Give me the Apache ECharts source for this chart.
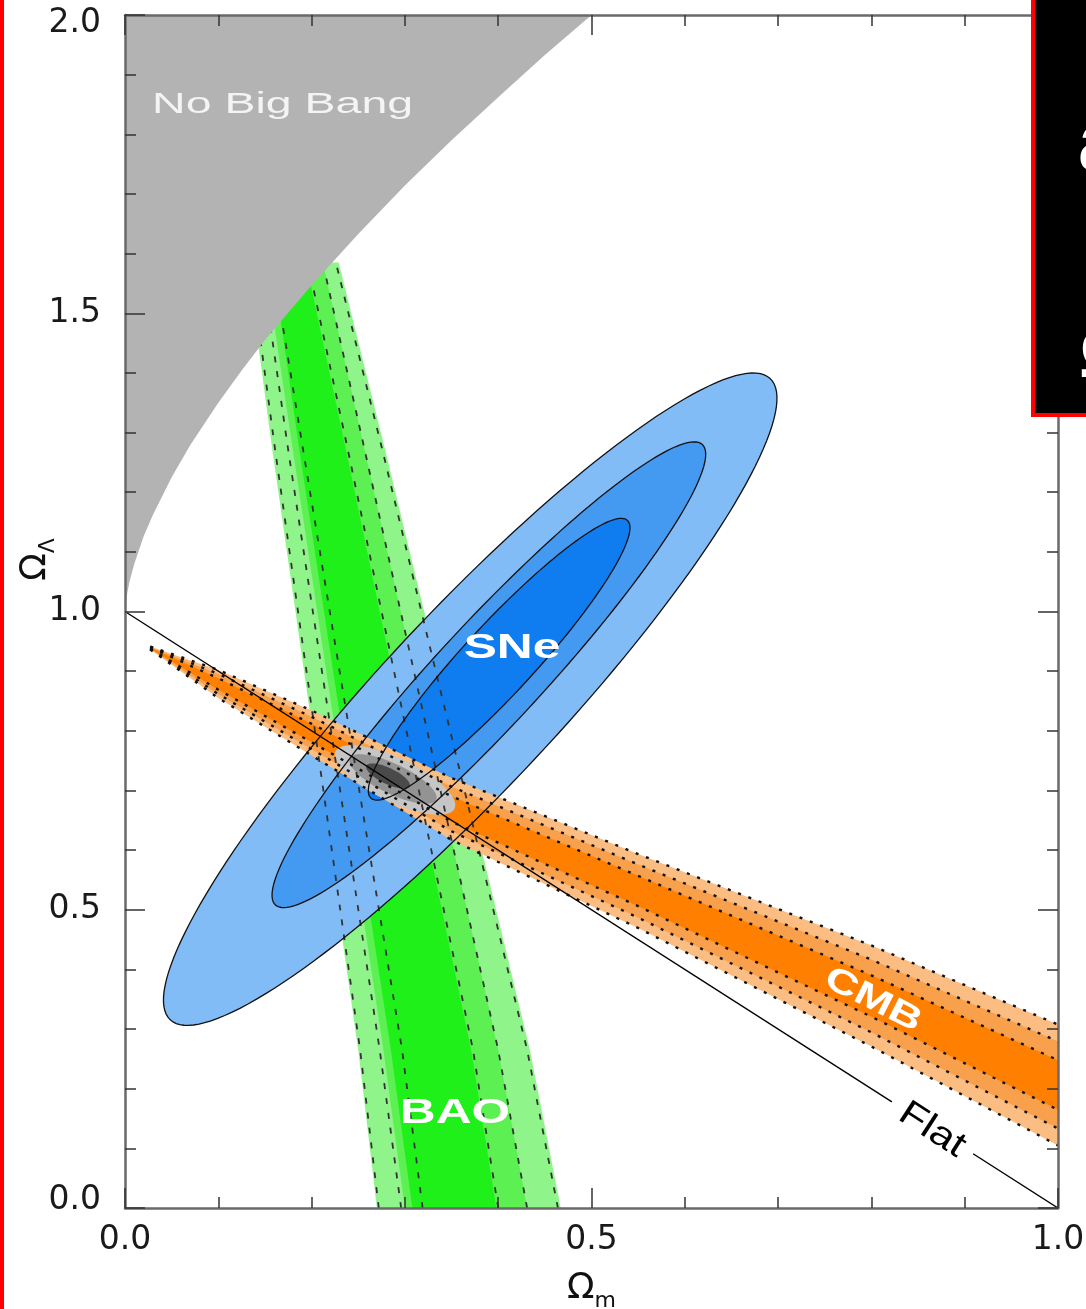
<!DOCTYPE html>
<html>
<head>
<meta charset="utf-8">
<script src="https://cdn.jsdelivr.net/npm/echarts@6/dist/echarts.min.js"></script>
<style>
  html, body { margin: 0; padding: 0; background: #fff; }
  #chart { width: 1086px; height: 1309px; }
</style>
</head>
<body>
<div id="chart"></div>
<script>
// ---- Data (Ω_m on x, Ω_Λ on y) ----

// Tick labels
const xTickLabels = ['0.0', '0.5', '1.0'];
const yTickLabels = ['0.0', '0.5', '1.0', '1.5', '2.0'];

// Boundary of the "No Big Bang" region
const noBigBangEdge = [
  [0, 1.0], [0.0025, 1.032], [0.005, 1.051], [0.01, 1.080], [0.02, 1.126], [0.03, 1.162],
  [0.05, 1.225], [0.07, 1.279], [0.1, 1.350], [0.125, 1.404], [0.15, 1.455], [0.2, 1.547],
  [0.25, 1.633], [0.3, 1.714], [0.35, 1.790], [0.4, 1.862], [0.45, 1.933], [0.5, 2.0]
];

// BAO: Ω_m of each contour edge at these Ω_Λ levels
const baoLevels = [0, 0.265, 1.27, 1.585];
const baoOuterLeft  = [0.270, 0.250, 0.158, 0.131];
const baoOuterRight = [0.467, 0.434, 0.279, 0.229];
const baoMidLeft    = [0.300, 0.277, 0.180, 0.150];
const baoMidRight   = [0.431, 0.400, 0.257, 0.212];
const baoInnerLeft  = [0.308, 0.285, 0.187, 0.158];
const baoInnerRight = [0.398, 0.371, 0.237, 0.194];
// BAO dashed contours
const baoDash1L = [0.272, 0.252, 0.161, 0.134];
const baoDash2L = [0.296, 0.273, 0.175, 0.146];
const baoDash3L = [0.319, 0.297, 0.191, 0.158];
const baoDash3R = [0.400, 0.373, 0.239, 0.196];
const baoDash2R = [0.431, 0.400, 0.257, 0.212];
const baoDash1R = [0.464, 0.431, 0.276, 0.226];

// SNe confidence ellipses: centre and two conjugate semi-diameters
const sneCenters = [[0.370, 0.853], [0.390, 0.894], [0.401, 0.920]];
const sneAxisA   = [[0.3215, 0.5375], [0.2288, 0.3859], [0.1375, 0.2327]];
const sneAxisB   = [[0.0689, -0.1008], [0.0408, -0.0593], [0.0275, -0.0399]];

// CMB band: Ω_Λ of each contour edge at these Ω_m values
const cmbX          = [0.027, 0.1, 0.2, 0.35, 0.55, 0.8, 1.0];
const cmbOuterUpper = [0.9413, 0.9020, 0.8340, 0.7209, 0.5934, 0.4401, 0.3076];
const cmbOuterLower = [0.9363, 0.8550, 0.7586, 0.6169, 0.4694, 0.2707, 0.1048];
const cmbMidUpper   = [0.9406, 0.8954, 0.8234, 0.7063, 0.5760, 0.4164, 0.2792];
const cmbMidLower   = [0.9370, 0.8616, 0.7692, 0.6315, 0.4868, 0.2944, 0.1332];
const cmbInnerUpper = [0.9398, 0.8881, 0.8118, 0.6902, 0.5568, 0.3901, 0.2478];
const cmbInnerLower = [0.9378, 0.8689, 0.7808, 0.6476, 0.5060, 0.3207, 0.1646];

// Joint constraint ellipses
const jointCenters = [[0.2894, 0.7175], [0.2872, 0.7192], [0.2819, 0.7242]];
const jointAxisA   = [[0.0638, -0.0479], [0.0463, -0.0349], [0.0232, -0.0174]];
const jointAxisB   = [[-0.0102, -0.0332], [-0.0070, -0.0226], [-0.0037, -0.0121]];

// Flat universe line Ω_m + Ω_Λ = 1 (broken around its label)
const flatSegments = [[[0, 1], [0.822, 0.178]], [[0.909, 0.091], [1, 0]]];

// ---- Styles ----
const tickFont = '"DejaVu Sans", Verdana, sans-serif';
const textFont = '"Liberation Sans", Arial, Helvetica, sans-serif';
const baoColors   = ['#8ff58a', '#5cf052', '#1ff01a'];
const sneColors   = ['#82bcf7', '#4499f0', '#0f7cf0'];
const cmbColors   = ['#fbbd82', '#f9a04c', '#ff8000'];
const jointColors = ['#c6c6c6', '#939393', '#4a4a4a'];

// ---- Geometry helpers ----
function ellipsePoints(c, a, b, n) {
  const pts = [];
  for (let i = 0; i < n; i++) {
    const t = 2 * Math.PI * i / n;
    pts.push([c[0] + a[0] * Math.cos(t) + b[0] * Math.sin(t),
              c[1] + a[1] * Math.cos(t) + b[1] * Math.sin(t)]);
  }
  return pts;
}
function bandByY(levels, left, right) {
  const pts = left.map((x, i) => [x, levels[i]]);
  for (let i = right.length - 1; i >= 0; i--) pts.push([right[i], levels[i]]);
  return pts;
}
function bandByX(xs, upper, lower) {
  const pts = xs.map((x, i) => [x, upper[i]]);
  for (let i = xs.length - 1; i >= 0; i--) pts.push([xs[i], lower[i]]);
  return pts;
}
const lineByY = (levels, xs) => xs.map((x, i) => [x, levels[i]]);
const lineByX = (xs, ys) => xs.map((x, i) => [x, ys[i]]);

const toPx = (api, pts) => pts.map(p => api.coord(p));
const fillPoly = (api, pts, fill) =>
  ({ type: 'polygon', shape: { points: toPx(api, pts) }, style: { fill: fill, stroke: null } });
const strokePoly = (api, pts, stroke, w) =>
  ({ type: 'polygon', shape: { points: toPx(api, pts) }, style: { fill: null, stroke: stroke, lineWidth: w } });
const strokeLine = (api, pts, stroke, w, dash) =>
  ({ type: 'polyline', shape: { points: toPx(api, pts) },
     style: { fill: null, stroke: stroke, lineWidth: w, lineDash: dash || null } });
const textAt = (api, p, text, opt) => {
  const q = api.coord(p);
  return {
    type: 'text', x: q[0], y: q[1],
    rotation: (opt.rotate || 0) * Math.PI / 180,
    scaleX: opt.scaleX || 1,
    style: { text: text, font: opt.font, fill: opt.fill,
             align: opt.align || 'center', verticalAlign: 'middle' }
  };
};

function layer(z, build) {
  return {
    type: 'custom', coordinateSystem: 'cartesian2d', xAxisIndex: 0, yAxisIndex: 0,
    z: z, silent: true, clip: true, animation: false,
    data: [[0.5, 1]],
    renderItem: (params, api) => ({ type: 'group', children: build(api) })
  };
}

const sneShapes = sneCenters.map((c, i) => ellipsePoints(c, sneAxisA[i], sneAxisB[i], 160));
const jointShapes = jointCenters.map((c, i) => ellipsePoints(c, jointAxisA[i], jointAxisB[i], 80));
const baoFills = [
  bandByY(baoLevels, baoOuterLeft, baoOuterRight),
  bandByY(baoLevels, baoMidLeft, baoMidRight),
  bandByY(baoLevels, baoInnerLeft, baoInnerRight)
];
const baoDashes = [baoDash1L, baoDash2L, baoDash3L, baoDash3R, baoDash2R, baoDash1R]
  .map(xs => lineByY(baoLevels, xs));
const cmbFills = [
  bandByX(cmbX, cmbOuterUpper, cmbOuterLower),
  bandByX(cmbX, cmbMidUpper, cmbMidLower),
  bandByX(cmbX, cmbInnerUpper, cmbInnerLower)
];
const cmbDots = [cmbOuterUpper, cmbMidUpper, cmbInnerUpper, cmbInnerLower, cmbMidLower, cmbOuterLower]
  .map(ys => lineByX(cmbX, ys));
const noBigBang = noBigBangEdge.concat([[0, 2.0]]);

const series = [
  layer(2, api => baoFills.map((p, i) => fillPoly(api, p, baoColors[i]))),
  layer(3, api => sneShapes.map((p, i) => fillPoly(api, p, sneColors[i]))),
  layer(4, api => cmbFills.map((p, i) => fillPoly(api, p, cmbColors[i]))),
  layer(5, api => jointShapes.map((p, i) => fillPoly(api, p, jointColors[i]))),
  layer(6, api => []
    .concat(baoDashes.map(p => strokeLine(api, p, '#333', 1.8, [6, 9])))
    .concat(cmbDots.map(p => strokeLine(api, p, '#111', 2.4, [3, 8])))
    .concat(sneShapes.map(p => strokePoly(api, p, '#111', 1.3)))
    .concat(flatSegments.map(p => strokeLine(api, p, '#000', 1.4)))),
  layer(7, api => [
    fillPoly(api, noBigBang, '#b3b3b3'),
    textAt(api, [0.029, 1.849], 'No Big Bang',
      { font: '30px ' + textFont, fill: '#f4f4f4', align: 'left', scaleX: 1.55 })
  ]),
  layer(8, api => [
    textAt(api, [0.4148, 0.9388], 'SNe', { font: 'bold 35px ' + textFont, fill: '#fff', scaleX: 1.42 }),
    textAt(api, [0.3537, 0.1593], 'BAO', { font: 'bold 35px ' + textFont, fill: '#fff', scaleX: 1.42 }),
    textAt(api, [0.8017, 0.3487], 'CMB', { font: 'bold 34px ' + textFont, fill: '#fff', scaleX: 1.35, rotate: -27 }),
    textAt(api, [0.865, 0.131], 'Flat', { font: '36px ' + textFont, fill: '#000', scaleX: 1.2, rotate: -33 })
  ])
];

// ---- Axes ----
const tickStyle = { color: '#333', width: 1.5 };
const lineStyle = { color: '#6a6a6a', width: 2.5 };
function labelRich() {
  const base = { fontFamily: tickFont, fontSize: 33, color: '#1a1a1a' };
  return {
    n: base,
    lo: Object.assign({}, base, { padding: [0, 0, 16, 0] }),
    hi: Object.assign({}, base, { padding: [16, 0, 0, 0] })
  };
}
function axisBase(extra) {
  return Object.assign({
    type: 'value', z: 20, nameMoveOverlap: false,
    axisLine: { show: true, onZero: false, lineStyle: lineStyle },
    axisTick: { show: true, inside: true, length: 20, lineStyle: tickStyle },
    minorTick: { show: true, splitNumber: 5, length: 11, lineStyle: tickStyle },
    splitLine: { show: false }, minorSplitLine: { show: false }
  }, extra);
}
const nameRich = {
  o: { fontFamily: tickFont, fontSize: 36, color: '#111', lineHeight: 46, verticalAlign: 'middle' },
  s: { fontFamily: tickFont, fontSize: 22, color: '#111', lineHeight: 22, verticalAlign: 'bottom' }
};

const option = {
  backgroundColor: '#fff',
  animation: false,
  grid: { left: 125, right: 28, top: 15, bottom: 101, containLabel: false, outerBoundsMode: 'none' },
  xAxis: [
    axisBase({
      min: 0, max: 1, interval: 0.5, position: 'bottom',
      axisLabel: {
        margin: 16,
        formatter: v => '{n|' + xTickLabels[Math.round(v / 0.5)] + '}',
        rich: labelRich()
      },
      name: '{o|Ω}{s|m}', nameLocation: 'middle', nameGap: 58,
      nameTextStyle: { rich: nameRich }
    }),
    axisBase({ min: 0, max: 1, interval: 0.5, position: 'top', axisLabel: { show: false } })
  ],
  yAxis: [
    axisBase({
      min: 0, max: 2, interval: 0.5, position: 'left',
      axisLabel: {
        margin: 24,
        formatter: v => {
          const i = Math.round(v / 0.5);
          const key = i === 0 ? 'lo' : (i === yTickLabels.length - 1 ? 'hi' : 'n');
          return '{' + key + '|' + yTickLabels[i] + '}';
        },
        rich: labelRich()
      },
      name: '{o|Ω}{s|Λ}', nameLocation: 'middle', nameGap: 66, nameRotate: 90,
      nameTextStyle: { padding: [0, 0, 0, 104], rich: nameRich }
    }),
    axisBase({ min: 0, max: 2, interval: 0.5, position: 'right', axisLabel: { show: false } })
  ],
  series: series,
  graphic: [
    { type: 'rect', z: 100, left: 0, top: 0, shape: { width: 4, height: 1309 }, style: { fill: '#ff0000' } },
    { type: 'rect', z: 100, shape: { x: 1033, y: -10, width: 100, height: 425 },
      style: { fill: '#000', stroke: '#ff0000', lineWidth: 4 } },
    { type: 'text', z: 101, x: 1078, y: 147,
      style: { text: 'a', font: 'bold 85px ' + textFont, fill: '#fff', align: 'left', verticalAlign: 'middle' } },
    { type: 'text', z: 101, x: 1079, y: 358,
      style: { text: 'Ω', font: 'bold 70px ' + textFont, fill: '#fff', align: 'left', verticalAlign: 'middle' } }
  ]
};

const chart = echarts.init(document.getElementById('chart'));
chart.setOption(option);
</script>
</body>
</html>
